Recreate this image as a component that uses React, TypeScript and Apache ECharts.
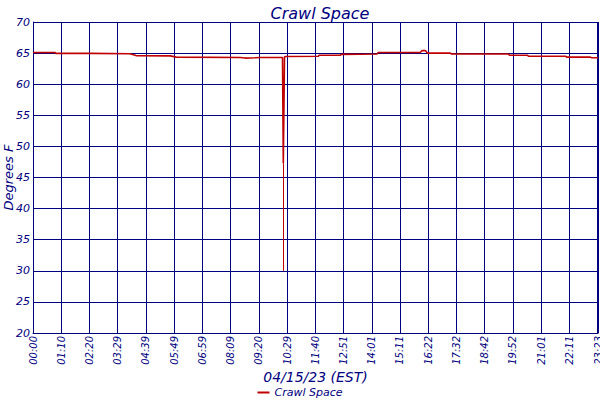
import React, { useEffect, useRef } from "react";
import * as echarts from "echarts";

const title = "Crawl Space";
const xName = "04/15/23 (EST)";
const yName = "Degrees F";
const tickLabels = [
  "00:00", "01:10", "02:20", "03:29", "04:39", "05:49", "06:59", "08:09", "09:20", "10:29",
  "11:40", "12:51", "14:01", "15:11", "16:22", "17:32", "18:42", "19:52", "21:01", "22:11", "23:21", "23:23",
];
// minutes since midnight
const minutes = [
  0, 55, 57, 142, 241, 256, 341, 356, 515, 527, 552, 565, 620, 622, 625, 629, 709, 711, 764, 766,
  855, 858, 962, 967, 975, 980, 1037, 1040, 1181, 1184, 1229, 1231, 1323, 1326, 1385, 1388, 1404,
];
const temps = [
  65.1, 65.1, 64.95, 64.95, 64.9, 64.6, 64.55, 64.35, 64.3, 64.2, 64.25, 64.3, 64.3, 47.3, 64.4, 64.45, 64.5, 64.65, 64.65, 64.8,
  64.85, 65.1, 65.1, 65.4, 65.4, 65.0, 65.0, 64.85, 64.85, 64.65, 64.65, 64.5, 64.5, 64.35, 64.35, 64.25, 64.25,
];
const dropMinute = 622;
const dropLow = 30;
const dropHigh = 47.3;

const NAVY = "#000080";
const RED = "#c00000";
const FONT = "DejaVu Sans";
const X_MAX = 1404;
const X_TICKS = 20;
const X_LAST = 1403;

export default function App() {
  const ref = useRef<HTMLDivElement>(null);
  useEffect(() => {
    const chart = echarts.init(ref.current!, null, { renderer: "svg" });
    const interval = X_LAST / X_TICKS;
    chart.setOption({
      animation: false,
      backgroundColor: "#ffffff",
      title: {
        text: title,
        left: 315,
        textAlign: "center",
        top: 0,
        textStyle: { color: NAVY, fontSize: 16, fontStyle: "italic", fontWeight: "normal", fontFamily: FONT },
      },
      legend: {
        data: [title],
        bottom: 2,
        left: "center",
        padding: 0,
        icon: "rect",
        itemWidth: 12,
        itemHeight: 2,
        itemGap: 5,
        textStyle: { color: NAVY, fontSize: 11, fontStyle: "italic", fontFamily: FONT },
      },
      grid: { left: 33, right: 2, top: 22, bottom: 67, containLabel: false, outerBoundsMode: "none" },
      xAxis: {
        type: "value",
        min: 0,
        max: X_MAX,
        interval,
        name: xName,
        nameLocation: "middle",
        nameGap: 37,
        nameMoveOverlap: false,
        nameTextStyle: { color: NAVY, fontSize: 14, fontStyle: "italic", fontFamily: FONT },
        axisLine: { show: true, lineStyle: { color: NAVY, width: 1 } },
        axisTick: { show: false },
        splitLine: { show: true, lineStyle: { color: NAVY, width: 1 } },
        axisLabel: {
          rotate: 90,
          margin: 3,
          color: NAVY,
          fontSize: 10,
          fontStyle: "italic",
          fontFamily: FONT,
          showMaxLabel: true,
          hideOverlap: false,
          formatter: (v: number) => {
            if (v >= X_MAX) return tickLabels[tickLabels.length - 1];
            return tickLabels[Math.round(v / interval)] ?? "";
          },
        },
      },
      yAxis: {
        type: "value",
        min: 20,
        max: 70,
        interval: 5,
        name: yName,
        nameLocation: "middle",
        nameGap: 18,
        nameMoveOverlap: false,
        nameTextStyle: { color: NAVY, fontSize: 13, fontStyle: "italic", fontFamily: FONT },
        axisLine: { show: true, lineStyle: { color: NAVY, width: 1 } },
        axisTick: { show: false },
        splitLine: { show: true, lineStyle: { color: NAVY, width: 1 } },
        axisLabel: { margin: 3, color: NAVY, fontSize: 11, fontStyle: "italic", fontFamily: FONT },
      },
      series: [
        {
          name: title,
          type: "line",
          data: minutes.map((m, i) => [m, temps[i]]),
          showSymbol: false,
          symbol: "none",
          lineStyle: { color: RED, width: 1.6 },
          itemStyle: { color: RED },
          markLine: {
            silent: true,
            symbol: "none",
            label: { show: false },
            lineStyle: { color: RED, width: 1, type: "solid" },
            data: [[{ coord: [dropMinute, dropHigh] }, { coord: [dropMinute, dropLow] }]],
          },
        },
      ],
    });
    return () => chart.dispose();
  }, []);
  return <div ref={ref} style={{ position: "fixed", left: 0, top: 0, width: 600, height: 400 }} />;
}
